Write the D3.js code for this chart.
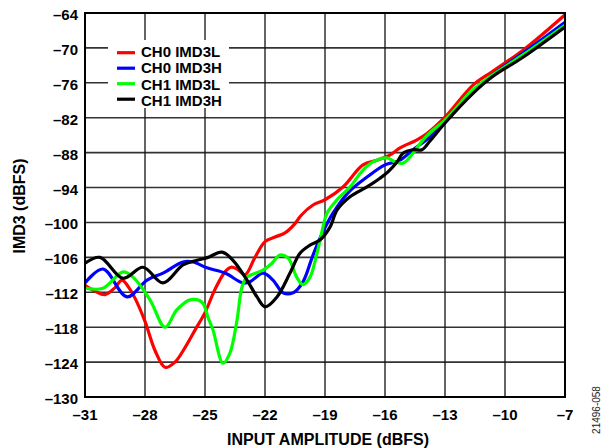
<!DOCTYPE html>
<html>
<head>
<meta charset="utf-8">
<script src="https://cdn.jsdelivr.net/npm/d3@7"></script>
<style>
  html, body { margin: 0; padding: 0; background: #fff; }
  svg { display: block; }
  text { font-family: "Liberation Sans", Arial, sans-serif; }
</style>
</head>
<body>
<svg id="chart" width="601" height="448"></svg>
<script>
// Input amplitude (dBFS) / IMD3 (dBFS) for each trace
const ch0L_x = [-31, -30.5, -30, -29.5, -29.15, -28.75, -28.5, -28, -27.5, -27, -26.5, -26, -25.5, -25, -24.5, -24, -23.7, -23.4, -23, -22.5, -22, -21.5, -21, -20.5, -20.2, -19.6, -19, -18.1, -17.1, -16.4, -15.75, -15.25, -14.4, -13.9, -13, -11.6, -10.65, -9.1, -7];
const ch0L_y = [-110.8, -111.8, -112.4, -111.2, -109.9, -111.5, -113, -117, -122, -124.9, -124, -121.5, -118.5, -115.5, -111.5, -108.5, -107.7, -108, -109, -106, -103.3, -102.5, -101.8, -100.2, -98.8, -97, -96.1, -93.9, -90.1, -89.3, -88.4, -87.2, -85.8, -84.7, -81.9, -76.4, -74.1, -70.4, -64.3];

const ch0H_x = [-31, -30.1, -28.9, -27.9, -27.1, -26.1, -25.6, -24.9, -24, -23.1, -22.75, -22.1, -21.6, -21.1, -20.6, -20.1, -19.6, -19.1, -18.6, -17.85, -16.9, -16, -15.25, -14.6, -13.75, -13, -11.6, -10.65, -9.1, -7];
const ch0H_y = [-110.4, -108, -112.8, -109.9, -108.7, -106.8, -106.8, -107.8, -108.7, -110.4, -110.2, -108.7, -109.9, -112.1, -112.1, -110.2, -105.6, -101.6, -98.4, -94.9, -92.2, -90.1, -89.3, -87.5, -85.3, -82.7, -77.6, -74.7, -70.9, -65.6];

const ch1L_x = [-31, -30.1, -29.1, -28.6, -27.75, -27, -26.4, -25.75, -25.15, -24.85, -24.6, -24.1, -23.75, -23.4, -23.15, -22.9, -22.1, -21.65, -21.25, -20.85, -20.4, -20.1, -19.75, -19.4, -19.1, -18.9, -18.4, -17.75, -17.1, -16.6, -15.9, -15.5, -15.1, -14.6, -14.1, -13.6, -13, -11.6, -10.65, -9.1, -7];
const ch1L_y = [-111.3, -111.3, -108.5, -109.4, -113.3, -118, -115, -113.3, -113.7, -116.3, -118.5, -124.2, -122.4, -116.8, -111.1, -109.4, -108.2, -107, -105.6, -106.1, -109.5, -110.7, -109.4, -105.3, -100.8, -98.4, -96.1, -93.9, -91, -89.6, -88.9, -89.6, -89.8, -88.1, -85.8, -84.1, -82.4, -77.2, -74.7, -71.2, -66.1];

const ch1H_x = [-31, -30.25, -29.1, -28.1, -27.1, -26.1, -25.4, -24.85, -24.15, -23.6, -22.9, -22.4, -22, -21.4, -20.75, -20.25, -19.75, -19.25, -18.75, -18.4, -17.75, -16.9, -16.25, -15.85, -15.4, -15.1, -14.6, -14.15, -13.75, -13, -11.6, -10.65, -9.1, -7];
const ch1H_y = [-107, -106, -109.6, -107.7, -110.4, -107.3, -106.5, -106, -105.1, -106.5, -109.9, -112.8, -114.5, -112.8, -108.7, -105.3, -103.9, -103, -100.8, -97.9, -95.6, -93.9, -92.4, -91.3, -89.6, -88.1, -87.5, -87.5, -86.0, -82.9, -77.8, -75, -71.6, -66.4];

const seriesNames = ["CH0 IMD3L", "CH0 IMD3H", "CH1 IMD3L", "CH1 IMD3H"];
const seriesColors = ["#ff0000", "#0000ff", "#00ff00", "#000000"];
const seriesX = [ch0L_x, ch0H_x, ch1L_x, ch1H_x];
const seriesY = [ch0L_y, ch0H_y, ch1L_y, ch1H_y];

const xTicks = [-31, -28, -25, -22, -19, -16, -13, -10, -7];
const yTicks = [-64, -70, -76, -82, -88, -94, -100, -106, -112, -118, -124, -130];

const xTitle = "INPUT AMPLITUDE (dBFS)";
const yTitle = "IMD3 (dBFS)";
const figId = "21496-058";

const fmt = v => String(v).replace("-", "\u2013");

const svg = d3.select("#chart");
const m = { left: 85, top: 13, right: 565, bottom: 397 };

const x = d3.scaleLinear().domain([-31, -7]).range([m.left, m.right]);
const y = d3.scaleLinear().domain([-130, -64]).range([m.bottom, m.top]);

// grid
const grid = svg.append("g");
grid.selectAll("line.h").data(yTicks.slice(1, -1)).join("line")
  .attr("x1", m.left).attr("x2", m.right)
  .attr("y1", d => y(d)).attr("y2", d => y(d))
  .attr("stroke", "#333").attr("stroke-width", 1.6);
grid.selectAll("line.v").data(xTicks.slice(1, -1)).join("line")
  .attr("x1", d => x(d)).attr("x2", d => x(d))
  .attr("y1", m.top).attr("y2", m.bottom)
  .attr("stroke", "#111").attr("stroke-width", 1.3);

// legend background
const lg = svg.append("g");
lg.append("rect").attr("x", 108).attr("y", 40).attr("width", 121).attr("height", 68).attr("fill", "#fff");

// traces
svg.append("clipPath").attr("id", "plotclip").append("rect")
  .attr("x", m.left).attr("y", m.top).attr("width", m.right - m.left).attr("height", m.bottom - m.top);
const line = d3.line().x(d => x(d[0])).y(d => y(d[1])).curve(d3.curveCatmullRom.alpha(0.5));
const traces = svg.append("g").attr("clip-path", "url(#plotclip)");
seriesX.forEach((xs, i) => {
  const pts = xs.map((v, j) => [v, seriesY[i][j]]);
  traces.append("path").datum(pts).attr("d", line)
    .attr("fill", "none").attr("stroke", seriesColors[i]).attr("stroke-width", 3.2)
    .attr("stroke-linejoin", "round").attr("stroke-linecap", "round");
});

// frame
svg.append("rect").attr("x", m.left).attr("y", m.top)
  .attr("width", m.right - m.left).attr("height", m.bottom - m.top)
  .attr("fill", "none").attr("stroke", "#000").attr("stroke-width", 2);

// legend entries
seriesNames.forEach((name, i) => {
  const ly = 52.7 + i * 15.5;
  lg.append("line").attr("x1", 117).attr("x2", 135).attr("y1", ly).attr("y2", ly)
    .attr("stroke", seriesColors[i]).attr("stroke-width", 3.2);
  lg.append("text").attr("x", 141).attr("y", 57 + i * 16.3).text(name)
    .attr("font-size", 15).attr("font-weight", "bold").attr("fill", "#000");
});

// y tick labels
svg.append("g").selectAll("text").data(yTicks).join("text")
  .attr("x", 78).attr("y", d => y(d) + 7).attr("text-anchor", "end")
  .attr("font-size", 15).attr("font-weight", "bold").text(fmt);

// x tick labels
svg.append("g").selectAll("text").data(xTicks).join("text")
  .attr("x", d => x(d)).attr("y", 420).attr("text-anchor", "middle")
  .attr("font-size", 15).attr("font-weight", "bold").text(fmt);

// axis titles
svg.append("text").attr("x", 328).attr("y", 445).attr("text-anchor", "middle")
  .attr("font-size", 16).attr("font-weight", "bold").text(xTitle);
svg.append("text").attr("transform", "translate(25,206) rotate(-90)").attr("text-anchor", "middle")
  .attr("font-size", 16).attr("font-weight", "bold").text(yTitle);

svg.append("text").attr("transform", "translate(600,410) rotate(-90)").attr("text-anchor", "middle")
  .attr("font-size", 10).attr("fill", "#222").text(figId);
</script>
</body>
</html>
